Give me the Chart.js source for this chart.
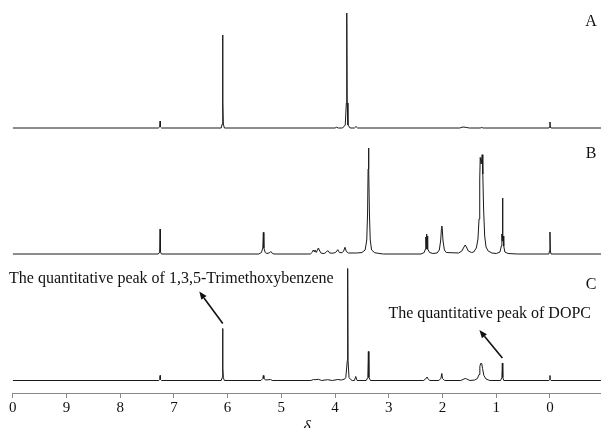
<!DOCTYPE html>
<html>
<head>
<meta charset="utf-8">
<script src="https://cdn.jsdelivr.net/npm/chart.js@4.4.1/dist/chart.umd.min.js"></script>
<style>
html,body{margin:0;padding:0;background:#fff;}
canvas{display:block;}
</style>
</head>
<body>
<canvas id="c" width="601" height="428"></canvas>
<script>
// ---- data (chemical shift δ in ppm, intensity in arbitrary units) ----
const deltaTicks = [10, 9, 8, 7, 6, 5, 4, 3, 2, 1, 0];
const tickLabels = ["0", "9", "8", "7", "6", "5", "4", "3", "2", "1", "0"];
const spectrumNames = ["A", "B", "C"];

const spectrumA = [
  [10, 0],
  [7.29, 0], [7.265, 1], [7.257, 7], [7.249, 1], [7.23, 0],
  [6.12, 0], [6.10, 4], [6.094, 25], [6.09, 93], [6.086, 25], [6.08, 4], [6.06, 0],
  [4.0, 0], [3.97, 0.8], [3.94, 0],
  [3.86, 0], [3.81, 3], [3.79, 25], [3.782, 115], [3.774, 25], [3.76, 3], [3.72, 0],
  [3.64, 0], [3.61, 1.5], [3.58, 0],
  [1.68, 0], [1.62, 1], [1.56, 0.6], [1.50, 0],
  [1.30, 0], [1.27, 0.5], [1.24, 0],
  [0.02, 0], [0.006, 1], [0.0, 6], [-0.006, 1], [-0.02, 0],
  [-0.95, 0]
];

const spectrumB = [
  [10, 0],
  [7.29, 0], [7.265, 2], [7.257, 25], [7.249, 2], [7.23, 0],
  [5.42, 0], [5.37, 1.5], [5.345, 6], [5.335, 21.6], [5.325, 6], [5.30, 1.5], [5.27, 0.5],
  [5.22, 1.2], [5.196, 2.5], [5.18, 1.2], [5.14, 0],
  [4.46, 0], [4.42, 2], [4.405, 4], [4.39, 2.5], [4.375, 4], [4.35, 1.5], [4.32, 5],
  [4.309, 6], [4.295, 4], [4.26, 0.8], [4.20, 0.5], [4.16, 2], [4.14, 3.3], [4.125, 3],
  [4.10, 1], [4.04, 0.8], [3.99, 1.5], [3.95, 4.3], [3.92, 1.5], [3.87, 1.2], [3.84, 3],
  [3.815, 6.7], [3.79, 2.5], [3.75, 1], [3.60, 1], [3.50, 1.5], [3.44, 4], [3.41, 14],
  [3.395, 40], [3.385, 85], [3.378, 106], [3.370, 85], [3.36, 40], [3.345, 14], [3.32, 4],
  [3.26, 1.2], [3.10, 0],
  [2.40, 0], [2.34, 1.5], [2.318, 5], [2.31, 17], [2.302, 5], [2.295, 20], [2.288, 5],
  [2.28, 18], [2.272, 5], [2.24, 1.5], [2.18, 0.5],
  [2.10, 1], [2.06, 4], [2.035, 13], [2.02, 25], [2.013, 28], [2.005, 25], [1.99, 13],
  [1.965, 4], [1.93, 1.5],
  [1.70, 1], [1.64, 3], [1.60, 7], [1.577, 9], [1.555, 7], [1.52, 3], [1.46, 1.5],
  [1.42, 2], [1.37, 6], [1.34, 15], [1.32, 35], [1.307, 75], [1.298, 96.6], [1.28, 90],
  [1.261, 99.3], [1.25, 80], [1.235, 45], [1.215, 18], [1.19, 7], [1.15, 3], [1.08, 1],
  [1.00, 0.5], [0.93, 2], [0.905, 8], [0.895, 20], [0.89, 13], [0.883, 56], [0.876, 15],
  [0.87, 18], [0.86, 8], [0.84, 2], [0.78, 0.5], [0.6, 0],
  [0.02, 0], [0.008, 3], [0.0, 22], [-0.008, 3], [-0.02, 0],
  [-0.95, 0]
];

const spectrumC = [
  [10, 0],
  [7.28, 0], [7.265, 1], [7.257, 5], [7.249, 1], [7.23, 0],
  [6.12, 0], [6.10, 3], [6.094, 12], [6.09, 52], [6.086, 12], [6.08, 3], [6.06, 0],
  [5.38, 0], [5.345, 2], [5.335, 5], [5.325, 2], [5.29, 0.5], [5.20, 1], [5.17, 0],
  [4.45, 0], [4.40, 1], [4.37, 0.8], [4.31, 1.2], [4.25, 0], [4.14, 0.8], [4.05, 0],
  [3.95, 1], [3.88, 0.5], [3.82, 1.5],
  [3.80, 3], [3.772, 20], [3.765, 112], [3.758, 20], [3.74, 3], [3.71, 1], [3.68, 0],
  [3.64, 0], [3.615, 4], [3.59, 0],
  [3.42, 0], [3.39, 3], [3.38, 29], [3.37, 3], [3.34, 0],
  [2.35, 0], [2.30, 2.5], [2.29, 3.5], [2.28, 2.5], [2.24, 0],
  [2.07, 0], [2.03, 2], [2.013, 7], [2.0, 2], [1.96, 0],
  [1.66, 0], [1.60, 1.5], [1.577, 2], [1.55, 1.5], [1.49, 0],
  [1.40, 0.5], [1.35, 2], [1.32, 6], [1.305, 14], [1.29, 17], [1.27, 17], [1.255, 12],
  [1.23, 5], [1.19, 1.5], [1.12, 0],
  [0.92, 0], [0.895, 3], [0.886, 17.5], [0.878, 3], [0.86, 0],
  [0.02, 0], [0.006, 1], [0.0, 5], [-0.006, 1], [-0.02, 0],
  [-0.95, 0]
];

const annotationTexts = [
  "The quantitative peak of 1,3,5-Trimethoxybenzene",
  "The quantitative peak of DOPC"
];
const annotationPeaks = [[6.09, 52], [0.886, 17.5]]; // [δ, intensity] of the peak pointed at in C

// ---- layout / style (not data) ----
const PLOT_H = 393;
const baselines = [265, 139, 12.5];   // vertical offset of each trace in plot units
const serif = "'Liberation Serif', 'Times New Roman', serif";
const ink = '#111';

function shifted(spec, off) {
  return spec.map(p => ({ x: p[0], y: p[1] + off }));
}

const overlay = {
  id: 'overlay',
  afterDraw(chart) {
    const ctx = chart.ctx;
    const xs = chart.scales.x, ys = chart.scales.y;
    ctx.save();
    ctx.fillStyle = ink;
    ctx.textBaseline = 'middle';
    ctx.font = '16px ' + serif;
    // trace labels
    const labelY = [21.7, 153.3, 285];
    spectrumNames.forEach((n, i) => {
      ctx.textAlign = 'center';
      ctx.fillText(n, 591, labelY[i]);
    });
    // annotations
    const textPos = [{ x: 9, y: 278.5, align: 'left' }, { x: 591, y: 314, align: 'right' }];
    const arrowVec = [[-23.5, -32], [-23, -28]];
    annotationTexts.forEach((t, i) => {
      ctx.textAlign = textPos[i].align;
      ctx.fillText(t, textPos[i].x, textPos[i].y);
      const pk = annotationPeaks[i];
      const tx = xs.getPixelForValue(pk[0]);
      const ty = ys.getPixelForValue(pk[1] + baselines[2]) - 5;
      const hx = tx + arrowVec[i][0], hy = ty + arrowVec[i][1];
      const ang = Math.atan2(hy - ty, hx - tx);
      const L = 8, W = 3.2;
      const bx = hx - L * Math.cos(ang), by = hy - L * Math.sin(ang);
      ctx.strokeStyle = ink;
      ctx.lineWidth = 1.6;
      ctx.beginPath();
      ctx.moveTo(tx, ty);
      ctx.lineTo(bx, by);
      ctx.stroke();
      ctx.beginPath();
      ctx.moveTo(hx, hy);
      ctx.lineTo(bx + W * Math.sin(ang), by - W * Math.cos(ang));
      ctx.lineTo(bx - W * Math.sin(ang), by + W * Math.cos(ang));
      ctx.closePath();
      ctx.fill();
    });
    ctx.restore();
  }
};

const ds = (spec, off) => ({
  data: shifted(spec, off),
  borderColor: '#1a1a1a',
  borderWidth: 1,
  pointRadius: 0,
  tension: 0,
  fill: false
});

new Chart(document.getElementById('c'), {
  type: 'line',
  data: {
    datasets: [
      ds(spectrumA, baselines[0]),
      ds(spectrumB, baselines[1]),
      ds(spectrumC, baselines[2])
    ]
  },
  options: {
    responsive: false,
    animation: false,
    parsing: true,
    layout: { padding: { left: 12.7, right: 0, top: 0, bottom: -9.2 } },
    plugins: { legend: { display: false }, tooltip: { enabled: false }, title: { display: false } },
    scales: {
      x: {
        type: 'linear',
        reverse: true,
        min: -0.95,
        max: 10,
        afterBuildTicks: s => { s.ticks = deltaTicks.map(v => ({ value: v })); },
        ticks: {
          callback: v => tickLabels[deltaTicks.indexOf(v)],
          font: { family: serif, size: 15 },
          color: ink,
          padding: 1,
          maxRotation: 0,
          autoSkip: false
        },
        grid: { display: true, drawOnChartArea: false, drawTicks: true, tickLength: 5, color: '#888', lineWidth: 1 },
        border: { display: true, color: '#888', width: 1 },
        title: { display: true, text: 'δ', color: ink, font: { family: serif, size: 16, style: 'italic' }, padding: { top: 0, bottom: 0 } }
      },
      y: { display: false, min: 0, max: PLOT_H }
    }
  },
  plugins: [overlay]
});
</script>
</body>
</html>
